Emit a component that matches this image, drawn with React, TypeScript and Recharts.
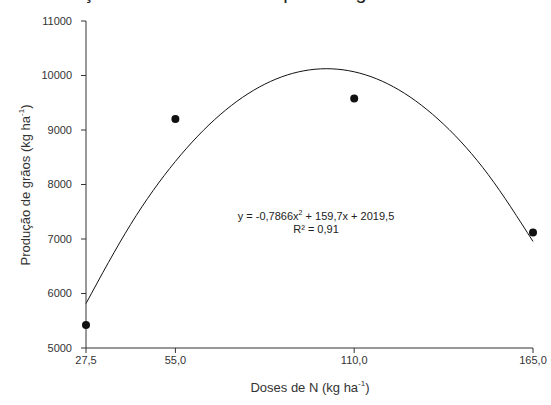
import { ComposedChart, Line, Scatter, XAxis, YAxis } from "recharts";

// observed means
const doses = [27.5, 55, 110, 165];
const producao = [5420, 9200, 9580, 7120];

// fitted curve
const curveDoses = [27.5, 41.25, 55, 68.75, 82.5, 96.25, 110, 123.75, 137.5, 151.25, 165];
const curveProducao = [5816, 7269, 8424, 9280, 9841, 10103, 10068, 9736, 9106, 8179, 6955];

const xTicks = [27.5, 55, 110, 165];
const yTicks = [5000, 6000, 7000, 8000, 9000, 10000, 11000];

const pontos = doses.map((d, i) => ({ dose: d, prod: producao[i] }));
const curva = curveDoses.map((d, i) => ({ dose: d, prod: curveProducao[i] }));

const FONT = "'Liberation Sans', Arial, sans-serif";
const fmt = (v: number) => v.toFixed(1).replace(".", ",");

const Ponto = (p: any) => <circle cx={p.cx} cy={p.cy} r={4} fill="#111" />;

export default function App() {
  return (
    <div style={{ position: "absolute", left: 0, top: 0, width: 551, height: 405, background: "#fff", fontFamily: FONT, overflow: "hidden" }}>
      <div style={{ position: "absolute", left: 22, top: -19, fontSize: 20, color: "#222", whiteSpace: "nowrap" }}>
        em função das doses de composto orgânico
      </div>
      <ComposedChart width={551} height={405} margin={{ top: 21, right: 18, bottom: 27, left: 0 }}>
        <XAxis
          type="number"
          dataKey="dose"
          domain={[27.5, 165]}
          ticks={xTicks}
          tickFormatter={fmt}
          stroke="#333"
          tickSize={5}
          tickMargin={3}
          height={30}
          tick={{ fill: "#333", fontSize: 11, fontFamily: FONT }}
          allowDuplicatedCategory={false}
        />
        <YAxis
          type="number"
          dataKey="prod"
          domain={[5000, 11000]}
          ticks={yTicks}
          width={86}
          stroke="#333"
          tickSize={5}
          tickMargin={9}
          tick={{ fill: "#333", fontSize: 11, fontFamily: FONT }}
        />
        <Line
          data={curva}
          dataKey="prod"
          type="natural"
          stroke="#111"
          strokeWidth={1}
          dot={false}
          isAnimationActive={false}
        />
        <Scatter data={pontos} dataKey="prod" fill="#111" shape={Ponto} isAnimationActive={false} />
      </ComposedChart>
      <div style={{ position: "absolute", left: 0, top: 0, width: 50, height: 405 }}>
        <div
          style={{
            position: "absolute",
            left: 25,
            top: 185,
            transform: "translate(-50%, -50%) rotate(-90deg)",
            fontSize: 13,
            color: "#333",
            whiteSpace: "nowrap",
          }}
        >
          Produção de grãos (kg ha<sup style={{ fontSize: 8 }}>-1</sup>)
        </div>
      </div>
      <div style={{ position: "absolute", left: 310, top: 387, transform: "translate(-50%, -50%)", fontSize: 13, color: "#333", whiteSpace: "nowrap" }}>
        Doses de N (kg ha<sup style={{ fontSize: 8 }}>-1</sup>)
      </div>
      <div style={{ position: "absolute", left: 316, top: 206, transform: "translateX(-50%)", fontSize: 11, color: "#222", whiteSpace: "nowrap", textAlign: "center", lineHeight: "13px" }}>
        y = -0,7866x<sup style={{ fontSize: 7 }}>2</sup> + 159,7x + 2019,5
        <br />
        R² = 0,91
      </div>
    </div>
  );
}
